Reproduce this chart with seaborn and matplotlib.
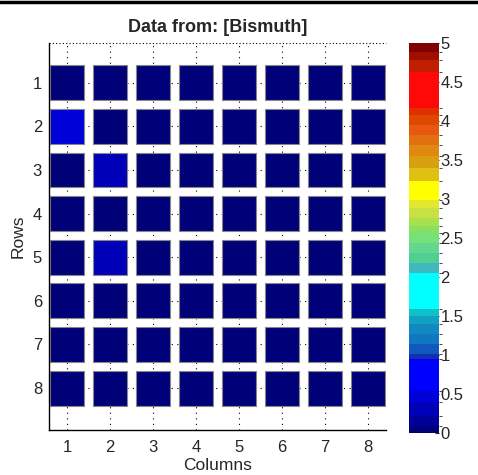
import numpy as np
import pandas as pd
import matplotlib
matplotlib.use('Agg')
import matplotlib.pyplot as plt
import seaborn as sns
from matplotlib.colors import ListedColormap, BoundaryNorm
from matplotlib.lines import Line2D

rows = [1, 2, 3, 4, 5, 6, 7, 8]
columns = [1, 2, 3, 4, 5, 6, 7, 8]
# values per row (rows 1..8), columns 1..8
values = [
    [0.05, 0.05, 0.05, 0.05, 0.05, 0.05, 0.05, 0.05],
    [0.47, 0.05, 0.05, 0.05, 0.05, 0.05, 0.05, 0.05],
    [0.05, 0.35, 0.05, 0.05, 0.05, 0.05, 0.05, 0.05],
    [0.05, 0.05, 0.05, 0.05, 0.05, 0.05, 0.05, 0.05],
    [0.05, 0.37, 0.05, 0.05, 0.05, 0.05, 0.05, 0.05],
    [0.05, 0.05, 0.05, 0.05, 0.05, 0.05, 0.05, 0.05],
    [0.05, 0.05, 0.05, 0.05, 0.05, 0.05, 0.05, 0.05],
    [0.05, 0.05, 0.05, 0.05, 0.05, 0.05, 0.05, 0.05],
]
cbar_ticks = [0, 0.5, 1, 1.5, 2, 2.5, 3, 3.5, 4, 4.5, 5]
cbar_labels = ['0', '0.5', '1', '1.5', '2', '2.5', '3', '3.5', '4', '4.5', '5']

# banded colour scale
band_edges = [0, 0.09, 0.22, 0.40, 0.54, 0.95, 1.01, 1.14, 1.27, 1.40, 1.50, 1.59, 2.05,
              2.18, 2.31, 2.44, 2.56, 2.66, 2.76, 2.88, 2.99, 3.23, 3.40, 3.55, 3.69,
              3.82, 3.95, 4.08, 4.17, 4.63, 4.78, 4.88, 5.0]
band_colors = ['#000078', '#000098', '#0000B8', '#0000D8', '#0000FF', '#1030B0', '#1058C0',
               '#1078C0', '#1088C0', '#10A0C0', '#10C0C8', '#00FFFF', '#40B8C0', '#50D090',
               '#60D890', '#78E078', '#88E060', '#A8E050', '#C8E040', '#E0E830', '#FFFF00',
               '#E0C010', '#D8A010', '#E08810', '#E07010', '#E85810', '#E04800', '#E03000',
               '#FF0808', '#C02000', '#A01000', '#800000']

df = pd.DataFrame([(r, c, values[i][j]) for i, r in enumerate(rows) for j, c in enumerate(columns)],
                  columns=['Row', 'Column', 'Value'])

sns.set_style('white')
plt.rcParams['font.family'] = ['Liberation Sans', 'DejaVu Sans']

cmap = ListedColormap(band_colors)
norm = BoundaryNorm(band_edges, cmap.N)

fig = plt.figure(figsize=(4.78, 4.75), dpi=100)
ax = fig.add_axes([49 / 478, 1 - 430 / 475, (386 - 49) / 478, (430 - 43) / 475])
cax = fig.add_axes([409 / 478, 1 - 433 / 475, 30 / 478, (433 - 43) / 475])

# dotted grid drawn behind squares
for c in columns:
    ax.axvline(c, color='black', ls=(0, (1, 4)), lw=0.8, zorder=0)
for r in rows:
    ax.axhline(r, color='black', ls=(0, (1, 4)), lw=0.8, zorder=0)

sns.scatterplot(data=df, x='Column', y='Row', hue='Value', palette=cmap, hue_norm=norm,
                marker='s', s=630, edgecolor='#888888', linewidth=0.8, legend=False, ax=ax, zorder=2)

ax.set_xlim(0.58, 8.42)
ax.set_ylim(8.96, 0.09)
ax.set_xticks(columns)
ax.set_yticks(rows)
ax.tick_params(direction='in', length=3, labelsize=12, color='black')
ax.tick_params(axis='x', pad=7)
ax.tick_params(axis='y', pad=5)
for s in ['top', 'right']:
    ax.spines[s].set_visible(False)
for s in ['left', 'bottom']:
    ax.spines[s].set_color('black')
    ax.spines[s].set_linewidth(1)
ax.axhline(0.09, color='black', ls=(0, (1, 2)), lw=0.8, clip_on=False)
ax.set_xlabel('Columns', fontsize=12.5, labelpad=2)
ax.set_ylabel('Rows', fontsize=12.5, labelpad=5)
ax.set_title('Data from: [Bismuth]', fontsize=13, fontweight='bold', pad=8)

sm = plt.cm.ScalarMappable(norm=norm, cmap=cmap)
cb = fig.colorbar(sm, cax=cax, ticks=cbar_ticks, spacing='proportional')
cb.ax.set_yticklabels(cbar_labels)
cb.ax.tick_params(direction='in', length=3, labelsize=12, pad=1)
cb.outline.set_visible(False)

fig.add_artist(Line2D([0, 1], [1 - 2 / 475, 1 - 2 / 475], color='black', lw=2.5))

fig.savefig('out.png', dpi=100)
